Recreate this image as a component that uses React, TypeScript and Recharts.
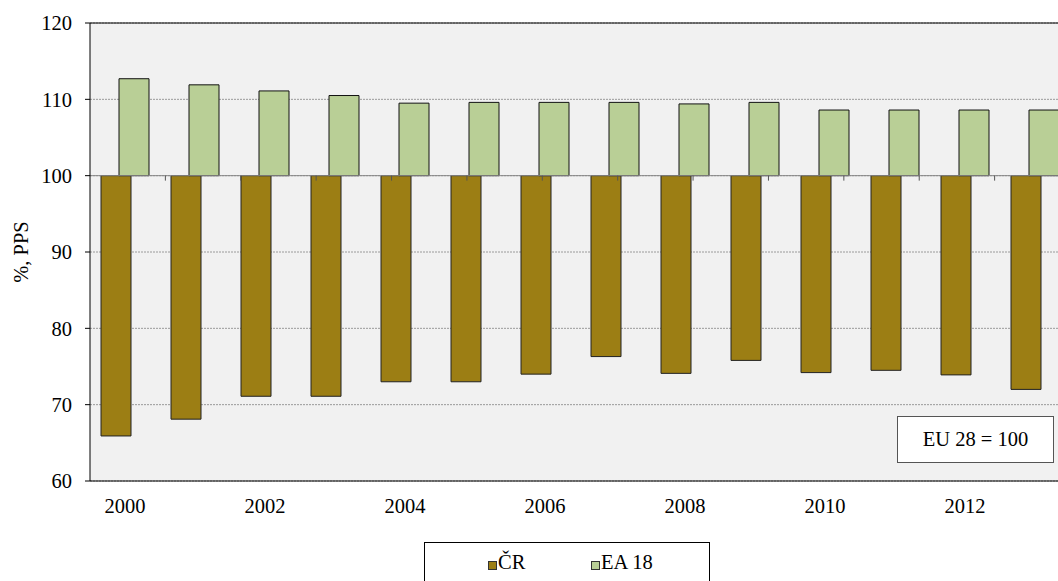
import React from 'react';
import {
  BarChart,
  Bar,
  XAxis,
  YAxis,
  CartesianGrid,
  ReferenceLine
} from 'recharts';

const years = ['2000', '2001', '2002', '2003', '2004', '2005', '2006', '2007', '2008', '2009', '2010', '2011', '2012', '2013'];
const crValues = [65.9, 68.1, 71.1, 71.1, 73.0, 73.0, 74.0, 76.3, 74.1, 75.8, 74.2, 74.5, 73.9, 72.0];
const eaValues = [112.7, 111.9, 111.1, 110.5, 109.5, 109.6, 109.6, 109.6, 109.4, 109.6, 108.6, 108.6, 108.6, 108.6];
const yTicks = [60, 70, 80, 90, 100, 110, 120];
const seriesNames = ['ČR', 'EA 18'];
const seriesColors = ['#9c7e14', '#b9cf96'];
const BASE = 100;

const font = '"Liberation Serif", "Times New Roman", serif';
const fs = 20.5;

// bars hang from the EU 28 = 100 line
const data = years.map((year, i) => ({
  year,
  cr: [crValues[i], BASE],
  ea: [BASE, eaValues[i]]
}));

const boundaries = years.slice(1).map((_, i) => i + 1);

export default function App() {
  return (
    <div style={{ position: 'absolute', left: 0, top: 0, width: 1058, height: 581, overflow: 'hidden', background: '#fff', fontFamily: font }}>
      <BarChart
        width={1080}
        height={581}
        data={data}
        margin={{ top: 23, right: 10, left: 0, bottom: 70 }}
        barSize={30}
        barGap={-12}
      >
        <CartesianGrid vertical={false} fill="#f1f1f1" stroke="#9a9a9a" strokeDasharray="2 1" />
        <XAxis
          dataKey="year"
          interval={1}
          height={30}
          tickLine={false}
          tickSize={0}
          tickMargin={17}
          axisLine={{ stroke: '#000' }}
          tick={{ fill: '#000', fontSize: fs, fontFamily: font }}
        />
        <XAxis xAxisId="b" type="number" domain={[0, years.length]} allowDataOverflow hide />
        <YAxis
          width={90}
          domain={[60, 120]}
          ticks={yTicks}
          allowDataOverflow
          tickSize={5}
          tickMargin={13}
          axisLine={{ stroke: '#000' }}
          tickLine={{ stroke: '#000' }}
          tick={{ fill: '#000', fontSize: fs, fontFamily: font }}
          label={{ value: '%, PPS', angle: -90, position: 'center', dx: -24, style: { fill: '#000', fontSize: fs, fontFamily: font } }}
        />
        <Bar dataKey="cr" name={seriesNames[0]} fill={seriesColors[0]} stroke="#222" strokeWidth={1} isAnimationActive={false} />
        <Bar dataKey="ea" name={seriesNames[1]} fill={seriesColors[1]} stroke="#111" strokeWidth={1} isAnimationActive={false} />
        <ReferenceLine y={BASE} stroke="#888" strokeWidth={1} />
        <ReferenceLine y={120} stroke="#000" strokeWidth={1} />
        {boundaries.map((b) => (
          <ReferenceLine
            key={b}
            xAxisId="b"
            segment={[{ x: b, y: BASE }, { x: b, y: BASE - 0.65 }]}
            stroke="#555"
          />
        ))}
      </BarChart>

      <div style={{
        position: 'absolute', left: 897, top: 416, width: 155, height: 45,
        background: '#fff', border: '1px solid #555',
        display: 'flex', alignItems: 'center', justifyContent: 'center', fontSize: fs, color: '#000'
      }}>
        EU 28 = 100
      </div>

      <div style={{
        position: 'absolute', left: 424, top: 542, width: 284, height: 60,
        border: '1px solid #000', background: '#fff'
      }}>
        {seriesNames.map((name, i) => (
          <React.Fragment key={name}>
            <span style={{
              position: 'absolute', left: i === 0 ? 63 : 166, top: 18, width: 7, height: 7,
              background: seriesColors[i], border: '1px solid #333'
            }} />
            <span style={{
              position: 'absolute', left: i === 0 ? 73 : 176, top: 8, fontSize: fs, color: '#000', whiteSpace: 'nowrap'
            }}>{name}</span>
          </React.Fragment>
        ))}
      </div>
    </div>
  );
}
